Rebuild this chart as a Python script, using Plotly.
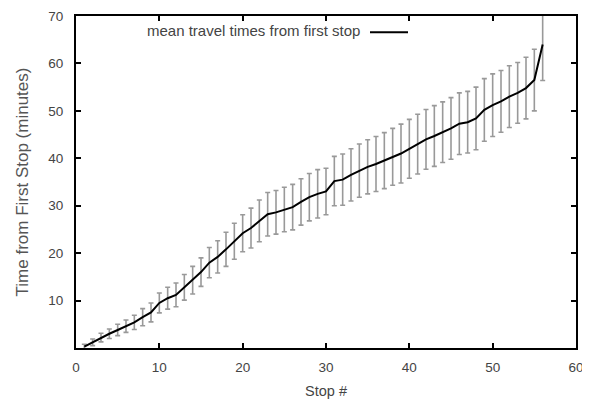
import plotly.graph_objects as go

stops = list(range(1, 57))
mean_time = [0.3, 1.2, 2.2, 3.0, 3.8, 4.6, 5.4, 6.5, 7.5, 9.5,
             10.5, 11.2, 12.8, 14.3, 16.0, 18.0, 19.2, 20.8, 22.5, 24.2,
             25.3, 26.8, 28.2, 28.6, 29.2, 29.7, 30.8, 31.8, 32.5, 33.0,
             35.2, 35.5, 36.5, 37.4, 38.2, 38.8, 39.5, 40.3, 41.0, 42.0,
             43.0, 44.0, 44.7, 45.5, 46.3, 47.3, 47.6, 48.4, 50.2, 51.2,
             52.0, 53.0, 53.8, 54.8, 56.5, 64.0]
err = [0.5, 0.7, 0.9, 1.0, 1.2, 1.3, 1.5, 1.8, 2.0, 2.1,
       2.3, 2.5, 2.7, 2.9, 3.0, 3.2, 3.4, 3.6, 3.8, 3.9,
       4.2, 4.4, 4.6, 4.6, 4.7, 4.8, 4.9, 5.0, 5.1, 4.9,
       5.2, 5.4, 5.5, 5.6, 5.7, 5.8, 5.9, 6.0, 6.2, 6.2,
       6.3, 6.3, 6.4, 6.4, 6.5, 6.5, 6.5, 6.6, 6.6, 6.6,
       6.5, 6.5, 6.4, 6.5, 6.5, 7.6]

x_ticks = [0, 10, 20, 30, 40, 50, 60]
y_ticks = [10, 20, 30, 40, 50, 60, 70]

fig = go.Figure()
fig.add_trace(go.Scatter(
    x=stops, y=mean_time, mode="lines",
    line=dict(color="black", width=2),
    error_y=dict(type="data", array=err, visible=True,
                 color="#999999", thickness=1.6, width=2.5),
    showlegend=False, cliponaxis=True,
))

fam = "Liberation Sans, Arial, sans-serif"
txt_col = "#444444"
tick_font = dict(family=fam, size=13.5, color=txt_col)

axis_common = dict(showline=True, linecolor="black", linewidth=2, mirror="ticks",
                   ticks="inside", ticklen=5, tickwidth=1.5, tickcolor="black",
                   showgrid=False, zeroline=False, tickfont=tick_font,
                   automargin=False)

fig.update_xaxes(range=[0, 60], tickvals=x_ticks, ticklabelstandoff=6,
                 title=dict(text="Stop #", font=dict(family=fam, size=14.5, color=txt_col),
                            standoff=12), **axis_common)
fig.update_yaxes(range=[0, 70], tickvals=y_ticks, ticklabelstandoff=8,
                 title=dict(text="Time from First Stop (minutes)",
                            font=dict(family=fam, size=17, color="#555555"), standoff=15),
                 **axis_common)

fig.add_annotation(x=0.572, y=0.955, xref="paper", yref="paper",
                   text="mean travel times from first stop", showarrow=False,
                   xanchor="right", yanchor="middle",
                   font=dict(family=fam, size=15, color=txt_col))
fig.add_shape(type="line", xref="paper", yref="paper",
              x0=0.588, x1=0.664, y0=0.951, y1=0.951,
              line=dict(color="black", width=2))

# page body has an 8px default margin, so the figure is sized to fit the window
fig.update_layout(
    width=582, height=395,
    margin=dict(l=68, r=14, t=8, b=55),
    paper_bgcolor="white", plot_bgcolor="white",
)

fig.write_html("out.html")
